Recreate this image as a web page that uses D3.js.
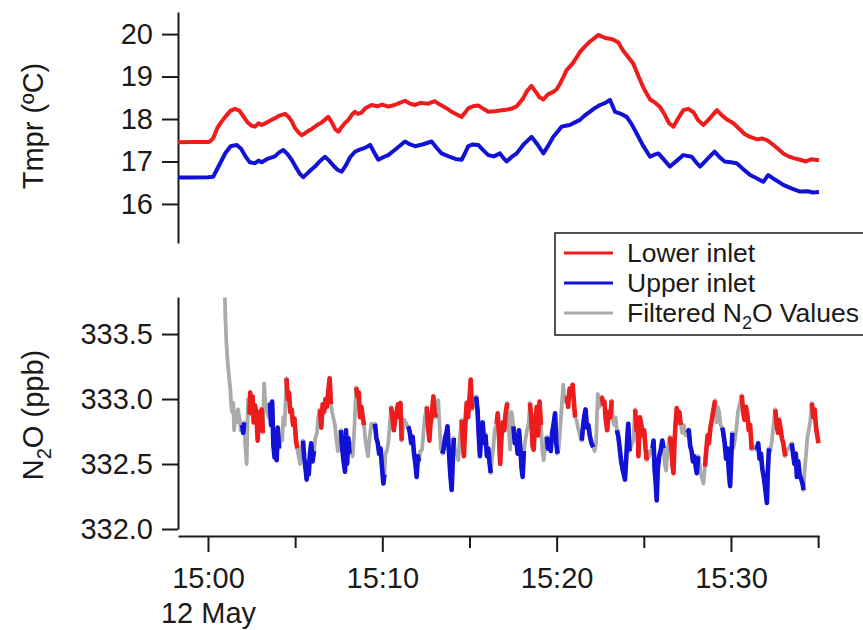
<!DOCTYPE html>
<html>
<head>
<meta charset="utf-8">
<script src="https://cdn.jsdelivr.net/npm/d3@7"></script>
<style>
  body { margin: 0; background: #fff; }
  svg { font-family: "Liberation Sans", Arial, sans-serif; }
  .axis path, .axis line { stroke: #1a1a1a; stroke-width: 2; }
  .axis text { font-size: 29px; fill: #1a1a1a; }
</style>
</head>
<body>
<script>
// times are minutes after 15:00 on 12 May
var lowerTmpr = [[-1.72,17.45],[-1.0,17.46],[0.0,17.46],[0.12,17.47],[0.3,17.55],[0.55,17.8],[0.8,17.95],[1.05,18.08],[1.3,18.2],[1.55,18.24],[1.8,18.2],[2.0,18.08],[2.25,17.93],[2.5,17.84],[2.7,17.82],[2.9,17.9],[3.08,17.86],[3.3,17.9],[3.55,17.96],[3.84,18.02],[4.1,18.08],[4.42,18.12],[4.6,18.06],[4.8,17.95],[5.0,17.78],[5.2,17.68],[5.37,17.62],[5.55,17.66],[5.75,17.72],[5.94,17.76],[6.2,17.84],[6.52,17.92],[6.7,17.98],[6.9,18.05],[7.1,17.92],[7.3,17.76],[7.48,17.7],[7.65,17.8],[7.85,17.9],[8.05,17.98],[8.25,18.1],[8.43,18.17],[8.6,18.12],[8.8,18.15],[9.05,18.26],[9.38,18.33],[9.7,18.3],[10.0,18.34],[10.34,18.29],[10.7,18.33],[11.0,18.38],[11.3,18.43],[11.6,18.36],[11.88,18.33],[12.2,18.38],[12.64,18.36],[13.0,18.42],[13.3,18.34],[13.7,18.25],[13.98,18.17],[14.3,18.1],[14.55,18.05],[14.75,18.15],[14.93,18.25],[15.2,18.3],[15.5,18.32],[15.8,18.24],[16.08,18.17],[16.4,18.18],[16.75,18.2],[17.1,18.22],[17.4,18.24],[17.71,18.3],[18.07,18.48],[18.3,18.66],[18.56,18.78],[18.8,18.64],[19.0,18.52],[19.24,18.46],[19.5,18.58],[19.81,18.64],[20.0,18.7],[20.18,18.82],[20.4,19.0],[20.57,19.15],[20.9,19.3],[21.1,19.42],[21.34,19.58],[21.6,19.7],[21.9,19.82],[22.15,19.9],[22.39,19.98],[22.6,19.94],[22.87,19.9],[23.2,19.88],[23.54,19.8],[23.8,19.62],[24.1,19.46],[24.4,19.3],[24.7,19.0],[25.0,18.72],[25.36,18.46],[25.6,18.4],[25.93,18.28],[26.2,18.1],[26.45,17.9],[26.7,17.82],[26.95,18.0],[27.27,18.21],[27.55,18.24],[27.85,18.16],[28.1,17.98],[28.42,17.86],[28.8,18.02],[29.19,18.21],[29.5,18.08],[29.8,17.98],[30.14,17.9],[30.5,17.76],[30.8,17.64],[31.1,17.58],[31.5,17.52],[31.8,17.54],[32.06,17.5],[32.4,17.4],[32.7,17.3],[33.0,17.19],[33.3,17.12],[33.6,17.08],[33.96,17.04],[34.3,17.0],[34.6,17.05],[35.05,17.03]];

var upperTmpr = [[-1.72,16.62],[-1.0,16.62],[0.0,16.63],[0.3,16.64],[0.5,16.8],[0.75,17.0],[1.0,17.2],[1.3,17.36],[1.65,17.39],[1.9,17.3],[2.15,17.12],[2.4,16.98],[2.7,16.96],[2.9,17.02],[3.08,16.98],[3.4,17.06],[3.84,17.12],[4.1,17.22],[4.32,17.27],[4.55,17.18],[4.8,17.04],[5.05,16.86],[5.25,16.72],[5.46,16.63],[5.7,16.72],[5.9,16.8],[6.14,16.88],[6.4,17.0],[6.71,17.11],[6.95,17.02],[7.2,16.9],[7.45,16.8],[7.67,16.76],[7.9,16.9],[8.15,17.1],[8.43,17.23],[8.7,17.28],[9.0,17.32],[9.3,17.39],[9.55,17.2],[9.77,17.04],[10.05,17.1],[10.34,17.15],[10.8,17.3],[11.3,17.47],[11.6,17.4],[11.88,17.36],[12.3,17.4],[12.83,17.47],[13.1,17.33],[13.4,17.19],[13.8,17.12],[14.2,17.06],[14.55,17.04],[14.75,17.2],[14.93,17.36],[15.2,17.4],[15.5,17.39],[15.8,17.26],[16.08,17.15],[16.4,17.12],[16.75,17.19],[16.95,17.08],[17.13,17.0],[17.4,17.1],[17.71,17.19],[18.1,17.4],[18.56,17.58],[18.9,17.4],[19.24,17.19],[19.5,17.36],[19.81,17.58],[20.05,17.7],[20.28,17.82],[20.75,17.86],[21.05,17.92],[21.34,17.98],[21.6,18.08],[21.9,18.17],[22.2,18.26],[22.49,18.33],[22.8,18.38],[23.06,18.45],[23.35,18.17],[23.7,18.12],[24.02,18.05],[24.3,17.88],[24.59,17.66],[24.95,17.38],[25.36,17.11],[25.6,17.16],[25.84,17.19],[26.2,17.02],[26.5,16.88],[26.9,17.02],[27.27,17.15],[27.75,17.11],[28.0,16.98],[28.23,16.88],[28.65,17.06],[29.06,17.23],[29.35,17.1],[29.64,17.0],[30.0,16.98],[30.33,16.96],[30.7,16.82],[31.1,16.68],[31.5,16.6],[31.85,16.52],[32.14,16.68],[32.5,16.58],[33.0,16.45],[33.5,16.36],[33.96,16.29],[34.4,16.3],[34.7,16.27],[35.05,16.28]];

var n2o = [[0.97,333.78],[1.0,333.62],[1.05,333.45],[1.12,333.3],[1.2,333.18],[1.28,333.08],[1.33,332.95],[1.38,332.9],[1.45,332.97],[1.5,332.76],[1.58,332.9],[1.65,332.82],[1.72,332.92],[1.8,332.86],[1.88,332.76],[1.96,332.8],[2.02,332.74],[2.08,332.82],[2.15,332.62],[2.22,332.5],[2.3,333.0],[2.38,332.88],[2.42,333.05],[2.5,332.9],[2.56,333.02],[2.62,332.82],[2.7,332.95],[2.78,332.88],[2.85,332.68],[2.92,332.9],[3.0,332.8],[3.08,332.92],[3.15,332.74],[3.22,333.12],[3.3,332.95],[3.4,332.9],[3.48,332.86],[3.55,332.97],[3.62,332.8],[3.68,332.98],[3.75,332.65],[3.82,332.55],[3.88,332.75],[3.94,332.53],[4.0,332.78],[4.08,332.62],[4.15,332.72],[4.25,332.68],[4.32,332.86],[4.4,332.8],[4.5,333.16],[4.58,333.0],[4.65,333.05],[4.72,332.9],[4.8,332.92],[4.88,332.8],[4.96,332.85],[5.05,332.68],[5.12,332.62],[5.2,332.56],[5.28,332.5],[5.36,332.62],[5.45,332.68],[5.52,332.55],[5.6,332.46],[5.66,332.38],[5.72,332.5],[5.78,332.42],[5.85,332.58],[5.92,332.66],[6.0,332.52],[6.08,332.6],[6.16,332.7],[6.25,332.74],[6.33,332.86],[6.42,332.92],[6.5,332.78],[6.58,332.96],[6.66,332.9],[6.74,333.0],[6.82,332.94],[6.9,333.06],[6.98,333.16],[7.05,332.96],[7.12,332.9],[7.2,332.85],[7.28,332.8],[7.36,332.7],[7.45,332.6],[7.55,332.66],[7.62,332.76],[7.7,332.62],[7.78,332.52],[7.86,332.44],[7.92,332.76],[7.98,332.5],[8.05,332.7],[8.12,332.58],[8.2,332.66],[8.3,332.56],[8.4,332.78],[8.5,333.09],[8.58,333.02],[8.65,333.05],[8.72,332.86],[8.8,332.94],[8.88,332.86],[8.95,332.8],[9.02,332.7],[9.1,332.62],[9.18,332.56],[9.28,332.72],[9.38,332.81],[9.5,332.78],[9.58,332.81],[9.66,332.7],[9.74,332.66],[9.82,332.58],[9.9,332.62],[9.98,332.48],[10.06,332.35],[10.12,332.42],[10.18,332.58],[10.26,332.6],[10.34,332.66],[10.42,332.78],[10.5,332.94],[10.58,332.86],[10.66,332.76],[10.74,332.84],[10.82,332.9],[10.9,332.96],[10.98,332.86],[11.04,332.97],[11.11,332.68],[11.18,332.76],[11.26,332.84],[11.34,332.82],[11.42,332.8],[11.49,332.79],[11.58,332.74],[11.66,332.66],[11.74,332.71],[11.82,332.58],[11.9,332.5],[11.97,332.4],[12.04,332.56],[12.1,332.52],[12.18,332.6],[12.28,332.61],[12.36,332.74],[12.44,332.86],[12.55,332.94],[12.62,332.8],[12.7,332.68],[12.76,332.8],[12.84,332.88],[12.93,333.02],[13.0,332.9],[13.08,332.86],[13.14,332.98],[13.21,332.99],[13.28,332.8],[13.36,332.62],[13.45,332.58],[13.52,332.62],[13.6,332.7],[13.68,332.74],[13.74,332.79],[13.82,332.6],[13.9,332.42],[13.98,332.3],[14.04,332.52],[14.1,332.7],[14.18,332.58],[14.26,332.6],[14.36,332.53],[14.44,332.7],[14.55,332.84],[14.62,332.66],[14.68,332.56],[14.76,332.8],[14.84,332.97],[14.92,332.86],[15.0,333.0],[15.07,333.15],[15.14,332.92],[15.22,332.95],[15.3,332.98],[15.38,333.02],[15.46,332.92],[15.54,332.7],[15.6,332.56],[15.68,332.74],[15.76,332.82],[15.84,332.66],[15.92,332.72],[16.0,332.56],[16.08,332.62],[16.16,332.5],[16.22,332.43],[16.3,332.55],[16.37,332.63],[16.45,332.76],[16.56,332.81],[16.62,332.89],[16.7,332.7],[16.76,332.5],[16.84,332.72],[16.92,332.82],[17.0,332.76],[17.08,332.9],[17.17,332.97],[17.24,332.8],[17.33,332.61],[17.42,332.9],[17.52,332.79],[17.6,332.66],[17.68,332.72],[17.76,332.58],[17.84,332.76],[17.92,332.62],[17.98,332.48],[18.05,332.4],[18.12,332.6],[18.2,332.68],[18.3,332.76],[18.4,332.82],[18.47,332.97],[18.54,332.86],[18.62,332.64],[18.68,332.61],[18.76,332.8],[18.86,332.94],[18.94,332.72],[19.02,332.98],[19.1,332.8],[19.18,332.6],[19.26,332.53],[19.34,332.62],[19.43,332.71],[19.5,332.62],[19.58,332.68],[19.66,332.6],[19.74,332.74],[19.82,332.8],[19.91,332.89],[19.98,332.66],[20.05,332.58],[20.12,332.62],[20.22,332.8],[20.3,332.96],[20.38,333.11],[20.46,332.98],[20.58,333.02],[20.66,332.94],[20.74,333.08],[20.82,333.04],[20.92,333.11],[21.0,332.96],[21.06,332.86],[21.14,332.84],[21.22,332.78],[21.3,332.74],[21.38,332.7],[21.44,332.68],[21.52,332.8],[21.6,332.88],[21.66,332.92],[21.74,332.78],[21.82,332.8],[21.9,332.72],[22.0,332.66],[22.1,332.63],[22.18,332.6],[22.26,332.66],[22.36,333.04],[22.46,332.94],[22.59,333.02],[22.66,332.96],[22.74,332.98],[22.82,332.84],[22.9,332.76],[22.98,332.9],[23.08,332.86],[23.16,332.99],[23.22,332.84],[23.3,332.8],[23.38,332.86],[23.46,332.76],[23.54,332.71],[23.62,332.62],[23.7,332.52],[23.8,332.45],[23.92,332.38],[24.0,332.56],[24.06,332.72],[24.11,332.81],[24.18,332.6],[24.24,332.62],[24.32,332.66],[24.4,332.68],[24.5,332.92],[24.58,332.76],[24.64,332.84],[24.69,332.56],[24.78,332.86],[24.86,332.8],[24.94,332.72],[25.02,332.76],[25.1,332.62],[25.17,332.53],[25.24,332.6],[25.32,332.56],[25.4,332.6],[25.5,332.62],[25.56,332.68],[25.62,332.46],[25.68,332.36],[25.74,332.22],[25.8,332.46],[25.88,332.56],[25.96,332.6],[26.06,332.68],[26.13,332.62],[26.2,332.5],[26.28,332.45],[26.36,332.6],[26.44,332.68],[26.5,332.71],[26.58,332.62],[26.64,332.5],[26.7,332.43],[26.76,332.66],[26.82,332.8],[26.89,332.93],[26.96,332.84],[27.04,332.9],[27.12,332.8],[27.2,332.74],[27.3,332.8],[27.4,332.72],[27.5,332.74],[27.58,332.76],[27.66,332.64],[27.74,332.6],[27.82,332.52],[27.9,332.56],[27.98,332.48],[28.04,332.43],[28.12,332.56],[28.2,332.5],[28.28,332.42],[28.36,332.38],[28.42,332.35],[28.51,332.48],[28.58,332.6],[28.66,332.72],[28.74,332.66],[28.82,332.78],[28.9,332.84],[29.0,332.92],[29.09,332.99],[29.16,332.82],[29.24,332.94],[29.32,332.9],[29.4,332.8],[29.5,332.78],[29.56,332.74],[29.64,332.66],[29.72,332.54],[29.8,332.62],[29.88,332.44],[29.95,332.33],[30.02,332.56],[30.08,332.74],[30.14,332.62],[30.22,332.68],[30.3,332.76],[30.4,332.9],[30.5,332.96],[30.62,333.03],[30.7,332.9],[30.78,332.84],[30.86,332.94],[30.94,332.88],[31.02,332.76],[31.1,332.8],[31.19,332.61],[31.26,332.64],[31.36,332.62],[31.48,332.61],[31.56,332.66],[31.64,332.54],[31.72,332.58],[31.8,332.46],[31.88,332.4],[31.96,332.32],[32.06,332.2],[32.12,332.46],[32.18,332.62],[32.26,332.6],[32.35,332.68],[32.44,332.8],[32.54,332.92],[32.62,332.8],[32.7,332.74],[32.76,332.84],[32.84,332.78],[32.92,332.7],[33.0,332.66],[33.11,332.56],[33.2,332.6],[33.3,332.62],[33.4,332.64],[33.49,332.66],[33.56,332.58],[33.64,332.5],[33.72,332.58],[33.78,332.4],[33.86,332.52],[33.94,332.42],[34.04,332.38],[34.12,332.34],[34.16,332.3],[34.24,332.48],[34.3,332.56],[34.38,332.7],[34.46,332.76],[34.54,332.82],[34.64,332.97],[34.72,332.86],[34.8,332.92],[34.88,332.78],[34.95,332.72],[35.02,332.66]];

// inlet switching windows (minutes after 15:00), the rest is filtered
var lowerWindows = [[2.38,3.18],[4.45,5.16],[6.38,7.08],[8.46,9.0],[10.46,11.14],[12.5,13.12],[14.5,15.18],[16.5,17.2],[18.44,19.14],[20.52,21.1],[22.54,23.2],[24.46,25.2],[26.47,27.15],[28.48,29.12],[30.58,31.22],[32.5,33.15],[34.6,35.05]];
var upperWindows = [[1.94,2.1],[3.5,4.12],[5.42,6.12],[7.58,8.16],[9.52,10.14],[11.45,12.14],[13.45,14.14],[15.35,16.26],[17.48,18.16],[19.4,20.08],[21.4,22.14],[23.44,24.2],[25.48,26.16],[27.48,28.16],[29.48,30.1],[31.44,32.22],[33.46,34.2]];

var tmprTicks = [16, 17, 18, 19, 20];
var n2oTicks  = [332.0, 332.5, 333.0, 333.5];
var legendItems = [
  { key: "lower", color: "#ee1c1c", label: ["Lower inlet"] },
  { key: "upper", color: "#1212d6", label: ["Upper inlet"] },
  { key: "filt",  color: "#aaaaaa", label: ["Filtered N", "2", "O Values"] }
];

var W = 863, H = 630;
var t0 = new Date(2016, 4, 12, 15, 0, 0);
function toDate(m){ return new Date(+t0 + m * 60000); }

var svg = d3.select("body").append("svg").attr("width", W).attr("height", H);

var x = d3.scaleTime().domain([toDate(-1.72), toDate(35.05)]).range([178, 819]);
var yT = d3.scaleLinear().domain([15.08, 20.52]).range([243, 12]);
var yN = d3.scaleLinear().domain([332.0, 333.785]).range([529, 297]);

// Top panel: temperature
var topG = svg.append("g");
topG.append("g").attr("class", "axis").attr("transform", "translate(178,0)")
  .call(d3.axisLeft(yT).tickValues(tmprTicks).tickSize(16).tickSizeOuter(0).tickPadding(9).tickFormat(d3.format("d")));

var lineT = d3.line().x(function(d){ return x(toDate(d[0])); }).y(function(d){ return yT(d[1]); });
topG.append("path").datum(lowerTmpr).attr("d", lineT)
  .attr("fill", "none").attr("stroke", legendItems[0].color).attr("stroke-width", 4).attr("stroke-linejoin", "round");
topG.append("path").datum(upperTmpr).attr("d", lineT)
  .attr("fill", "none").attr("stroke", legendItems[1].color).attr("stroke-width", 4).attr("stroke-linejoin", "round");

topG.append("text").attr("transform", "translate(43,126) rotate(-90)")
  .attr("text-anchor", "middle").attr("font-size", 29).attr("fill", "#1a1a1a").text("Tmpr (ºC)");

// Bottom panel: N2O
var botG = svg.append("g");
botG.append("g").attr("class", "axis").attr("transform", "translate(178,0)")
  .call(d3.axisLeft(yN).tickValues(n2oTicks).tickSize(16).tickSizeOuter(0).tickPadding(9).tickFormat(d3.format(".1f")));

var xAxis = botG.append("g").attr("class", "axis").attr("transform", "translate(0,536)")
  .call(d3.axisBottom(x).ticks(d3.timeMinute.every(5)).tickSizeOuter(0)
    .tickFormat(function(d){ return d.getMinutes() % 10 === 0 ? d3.timeFormat("%H:%M")(d) : ""; }));
xAxis.selectAll(".tick line").attr("y2", function(d){ return d.getMinutes() % 10 === 0 ? 16 : 12; });
xAxis.selectAll(".tick text").attr("y", 31);
xAxis.selectAll(".tick text").filter(function(d){ return +d === +t0; })
  .append("tspan").attr("x", 0).attr("dy", "1.22em").text("12 May");

var lineN = d3.line().x(function(d){ return x(toDate(d[0])); }).y(function(d){ return yN(d[1]); });
botG.append("path").datum(n2o).attr("d", lineN)
  .attr("fill", "none").attr("stroke", legendItems[2].color).attr("stroke-width", 3.8).attr("stroke-linejoin", "round");

function drawWindows(windows, color){
  windows.forEach(function(w){
    var pts = n2o.filter(function(d){ return d[0] >= w[0] && d[0] <= w[1]; });
    botG.append("path").datum(pts).attr("d", lineN)
      .attr("fill", "none").attr("stroke", color).attr("stroke-width", 4.6).attr("stroke-linejoin", "round");
  });
}
drawWindows(lowerWindows, legendItems[0].color);
drawWindows(upperWindows, legendItems[1].color);

var n2oLabel = botG.append("text").attr("transform", "translate(43,415) rotate(-90)")
  .attr("text-anchor", "middle").attr("font-size", 29).attr("fill", "#1a1a1a");
n2oLabel.append("tspan").text("N");
n2oLabel.append("tspan").attr("font-size", 20).attr("dy", 8).text("2");
n2oLabel.append("tspan").attr("dy", -8).text("O (ppb)");

// Legend
var leg = svg.append("g");
leg.append("rect").attr("x", 555).attr("y", 233).attr("width", 420).attr("height", 102)
  .attr("fill", "#fff").attr("stroke", "#1a1a1a").attr("stroke-width", 1.5);
legendItems.forEach(function(item, i){
  var cy = 253 + i * 30;
  leg.append("line").attr("x1", 564).attr("x2", 613).attr("y1", cy).attr("y2", cy)
    .attr("stroke", item.color).attr("stroke-width", 3);
  var t = leg.append("text").attr("x", 627).attr("y", cy + 9).attr("font-size", 26.5).attr("fill", "#1a1a1a");
  t.append("tspan").text(item.label[0]);
  if(item.label.length > 1){
    t.append("tspan").attr("font-size", 18).attr("dy", 7).text(item.label[1]);
    t.append("tspan").attr("dy", -7).text(item.label[2]);
  }
});
</script>
</body>
</html>
